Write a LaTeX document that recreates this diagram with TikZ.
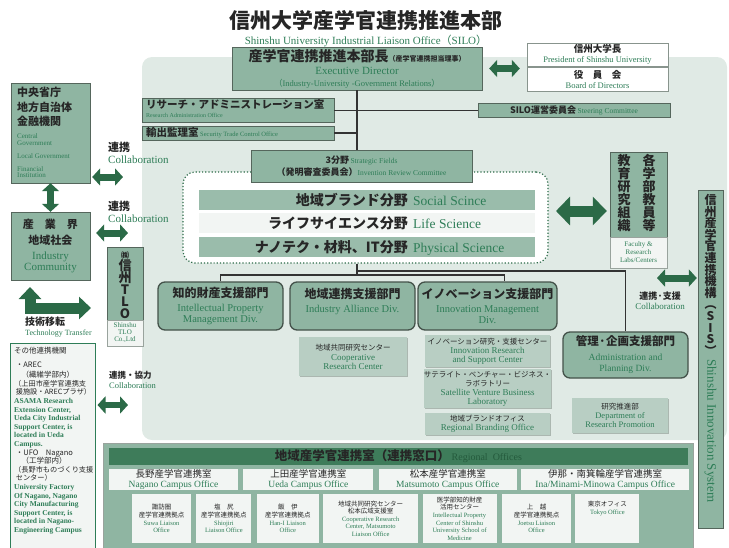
\documentclass[tikz,border=0pt]{standalone}
\usepackage{fontspec}
\setmainfont{Liberation Serif}
\newfontfamily\jp{Noto Sans CJK JP}
\usetikzlibrary{positioning, arrows.meta, calc, shadows}

\definecolor{panelbg}{HTML}{E0EAE5}
\definecolor{midgreen}{HTML}{8FB5A2}
\definecolor{subgreen}{HTML}{B8CEC3}
\definecolor{facewhite}{HTML}{F2F5F3}
\definecolor{darkgreen}{HTML}{2B6A47}
\definecolor{bargreen}{HTML}{3E7C5A}
\definecolor{tgreen}{HTML}{2E7D57}
\definecolor{edgegray}{HTML}{55665C}
\definecolor{jptext}{HTML}{262626}

\newcommand\jb{\jp\bfseries\color{jptext}}
\newcommand\jr{\jp\color{jptext}}
\newcommand\en{\rmfamily\color{tgreen}}
\newcommand\fsz[1]{\fontsize{#1}{#1}\selectfont}

\begin{document}
\begin{tikzpicture}[x=1pt, y=-1pt, inner sep=0pt]
	% 定义节点样式
	\tikzstyle{box} = [draw=edgegray, fill=midgreen, align=center]
	\tikzstyle{plain} = [draw=edgegray!70, fill=white, align=center, font=\fontsize{9}{10.5}\selectfont]
	\tikzstyle{sub} = [fill=subgreen, align=center, font=\fontsize{8}{9}\selectfont, drop shadow={shadow xshift=1.2pt, shadow yshift=-1.2pt, fill=edgegray!80}]
	\tikzstyle{div} = [draw=edgegray!80!black, line width=1.3pt, fill=midgreen, rounded corners=7pt, align=center, font=\fontsize{10}{11.5}\selectfont]
	\tikzstyle{bar} = [minimum width=336pt, minimum height=20pt]
	\tikzstyle{conn} = [draw=black!80, line width=1.2pt]
	\tikzstyle{dbl} = [darkgreen, line width=7pt, {Triangle[length=8pt,width=17pt]}-{Triangle[length=8pt,width=17pt]}]
	\tikzstyle{lbl} = [align=left, anchor=north west]
	\tikzstyle{campus} = [fill=facewhite, minimum height=21pt, align=center, font=\fontsize{9}{10}\selectfont]
	\tikzstyle{liaison} = [fill=facewhite, minimum height=49pt, align=center, font=\fontsize{6.5}{7.6}\selectfont]

	\useasboundingbox (0,0) rectangle (729,547);

	% 标题
	\node[font=\jb\fsz{21}] (title) at (366,20) {信州大学産学官連携推進本部};
	\node[font=\fsz{11}, text=tgreen, below=5pt of title] (silo) {Shinshu University Industrial Liaison Office{\jp （}SILO{\jp ）}};

	% 背景
	\node[fill=panelbg, rounded corners=10pt, minimum width=585pt, minimum height=383pt] (panel) at (434.5,248.5) {};
	\node[fill=midgreen, draw=edgegray!60, minimum width=590pt, minimum height=106pt, anchor=north west] (regional) at (103,443) {};

	% 本部
	\node[box, minimum width=250pt, minimum height=43pt, font=\fontsize{10}{12}\selectfont, drop shadow={shadow xshift=1pt, shadow yshift=-1pt, fill=edgegray}] (exec) at (357,68.5) {{\jb\fsz{14}産学官連携推進本部長}{\jb\fsz{7}（産学官連携担当理事）}\\[1pt]{\en\fsz{11}Executive Director}\\{\en\fsz{8.5}{\jp （}Industry-University -Government Relations{\jp ）}}};
	\node[plain, minimum width=141pt, minimum height=23pt] (pres) at (597.5,54.5) {{\jb\fsz{9.5}信州大学長}\\{\en\fsz{8.5}President of Shinshu University}};
	\node[plain, minimum width=141pt, minimum height=24pt, below=1pt of pres] (board) {{\jb\fsz{9.5}役　員　会}\\{\en\fsz{8.5}Board of Directors}};

	\node[box, minimum width=192pt, minimum height=24pt] (radmin) at (238,110.5) {};
	\node[lbl, font=\fontsize{8}{9}\selectfont] (radmintxt) at (146,99) {{\jb\fsz{10.5}リサーチ・アドミニストレーション室}\\{\en\fsz{6}Research Administration Office}};
	\node[box, minimum width=192pt, minimum height=14pt, below=3pt of radmin] (export) {};
	\node[anchor=west] (exporttxt) at ([xshift=4pt]export.west) {{\jb\fsz{10.5}輸出監理室}\,{\en\fsz{6.5}Security Trade Control Office}};
	\node[box, minimum width=192pt, minimum height=14pt] (steer) at (574,110.5) {{\jb\fsz{9}SILO運営委員会}\,{\en\fsz{7.5}Steering Committee}};

	% 外部机构
	\node[box, minimum width=79pt, minimum height=100pt] (gov) at (50.5,133) {};
	\node[lbl, font=\fontsize{7}{6.5}\selectfont] (govtxt) at (17,87) {{\jb\fsz{11}中央省庁}\\[3pt]{\jb\fsz{11}地方自治体}\\[3pt]{\jb\fsz{11}金融機関}\\[6.5pt]{\en\fsz{7}Central}\\{\en\fsz{7}Government}\\[6.5pt]{\en\fsz{7}Local Government}\\[6.5pt]{\en\fsz{7}Financial}\\{\en\fsz{7}Institution}};
	\node[box, minimum width=79pt, minimum height=68pt, font=\fontsize{10}{11}\selectfont] (ind) at (50.5,246) {{\jb\fsz{11}産　業　界}\\[5pt]{\jb\fsz{11}地域社会}\\[4pt]{\en\fsz{11}Industry}\\{\en\fsz{11}Community}};
	\node[lbl, font=\fontsize{10}{12}\selectfont] (collab1) at (108,142) {{\jb\fsz{11}連携}\\{\en\fsz{11}Collaboration}};
	\node[lbl, font=\fontsize{10}{12}\selectfont] (collab2) at (108,201) {{\jb\fsz{11}連携}\\{\en\fsz{11}Collaboration}};

	\node[box, minimum width=36pt, minimum height=99pt] (tlo) at (125,296.5) {};
	\node[fill=facewhite, draw=edgegray!60, minimum width=36pt, minimum height=26pt, anchor=south, align=center, font={\fontsize{7}{7}\selectfont\lineskiplimit=-20pt}] (tloen) at (tlo.south) {{\en Shinshu}\\{\en TLO}\\{\en Co.,Ltd}};
	\node[anchor=north, align=center, font={\jb\fontsize{13}{12}\selectfont\lineskiplimit=-20pt}] (tlojp) at (125,251) {{\fsz{8}㈱}\\信\\州\\T\\L\\O};

	\node[lbl, font=\fontsize{8}{9.5}\selectfont] (tt) at (25,317) {{\jb\fsz{10}技術移転}\\{\en\fsz{8}Technology Transfer}};
	\node[lbl, font=\fontsize{8.5}{10}\selectfont] (collab3) at (109,371) {{\jb\fsz{8.5}連携・協力}\\{\en\fsz{8.5}Collaboration}};

	\node[draw=tgreen, line width=1pt, fill=facewhite, minimum width=85pt, minimum height=205pt] (orgs) at (52.5,445.5) {};
	\node[lbl, font={\jr\fontsize{7.5}{8.6}\selectfont\lineskiplimit=-20pt}] (orgstxt) at (14,347) {{\jr\fsz{7.5}その他連携機関}\\[5pt]{\jr\fsz{7.5}\ ・AREC}\\[2pt]{\jr\fsz{7.5}\quad（繊維学部内）}\\{\jr\fsz{7.2}（上田市産学官連携支}\\{\jr\fsz{7.2}\ 援施設・ARECプラザ）}\\{\en\bfseries\fsz{7.5}ASAMA Research}\\{\en\bfseries\fsz{7.5}Extension Center,}\\{\en\bfseries\fsz{7.5}Ueda City Industrial}\\{\en\bfseries\fsz{7.5}Support Center, is}\\{\en\bfseries\fsz{7.5}located in Ueda}\\{\en\bfseries\fsz{7.5}Campus.}\\{\jr\fsz{7.5}\ ・UFO　Nagano}\\{\jr\fsz{7.5}\quad（工学部内）}\\{\jr\fsz{7.2}（長野市ものづくり支援}\\{\jr\fsz{7.2}\ センター）}\\{\en\bfseries\fsz{7.5}University Factory}\\{\en\bfseries\fsz{7.5}Of Nagano, Nagano}\\{\en\bfseries\fsz{7.5}City Manufacturing}\\{\en\bfseries\fsz{7.5}Support Center, is}\\{\en\bfseries\fsz{7.5}located in Nagano-}\\{\en\bfseries\fsz{7.5}Engineering Campus}};

	% 3分野
	\node[draw=darkgreen, dotted, line width=1.2pt, rounded corners=12pt, fill=white, minimum width=365pt, minimum height=91pt] (fieldzone) at (365.5,217.5) {};
	\node[box, minimum width=221pt, minimum height=32pt, font=\fontsize{9}{12}\selectfont, drop shadow={shadow xshift=1pt, shadow yshift=-1pt, fill=edgegray}] (fields) at (361.5,166) {{\jb\fsz{9}3分野}\,{\en\fsz{7.5}Strategic Fields}\\{\jb\fsz{9}（発明審査委員会）}{\en\fsz{7.5}Invention Review Committee}};
	\node[bar, fill=midgreen!90] (bar1) at (367,200) {};
	\node[bar, fill=facewhite] (bar2) at (367,223) {};
	\node[bar, fill=midgreen!90] (bar3) at (367,247) {};
	\node[anchor=base east, font=\jb\fsz{14}] (f1jp) at (408,205) {地域ブランド分野};
	\node[anchor=base west, font=\fsz{13.5}, text=tgreen] (f1en) at (413,205) {Social Scince};
	\node[anchor=base east, font=\jb\fsz{14}] (f2jp) at (408,228) {ライフサイエンス分野};
	\node[anchor=base west, font=\fsz{13.5}, text=tgreen] (f2en) at (413,228) {Life Science};
	\node[anchor=base east, font=\jb\fsz{14}] (f3jp) at (408,252) {ナノテク・材料、IT分野};
	\node[anchor=base west, font=\fsz{13.5}, text=tgreen] (f3en) at (413,252) {Physical Science};

	% 教員・机构
	\node[box, minimum width=57pt, minimum height=116pt] (faculty) at (638.5,210) {};
	\node[fill=facewhite, draw=edgegray!60, minimum width=57pt, minimum height=31pt, anchor=south, align=center, font=\fontsize{7}{8}\selectfont] (facen) at (faculty.south) {{\en Faculty \&}\\{\en Research}\\{\en Labs/Centers}};
	\node[anchor=north, align=center, font={\jb\fontsize{13}{13}\selectfont\lineskiplimit=-20pt}] (facjp1) at (649,154) {各\\学\\部\\教\\員\\等};
	\node[anchor=north, align=center, font={\jb\fontsize{13}{13}\selectfont\lineskiplimit=-20pt}] (facjp2) at (624,154) {教\\育\\研\\究\\組\\織};

	\node[box, minimum width=25pt, minimum height=338pt] (sis) at (710.5,359) {};
	\node[anchor=north, align=center, font={\jb\fontsize{12}{11.6}\selectfont\lineskiplimit=-20pt}] (sisjp) at (710.5,194) {信\\州\\産\\学\\官\\連\\携\\機\\構\\︵\\S\\I\\S\\︶};
	\node[anchor=west, rotate=-90, font=\fsz{13}, text=tgreen] (sisen) at (710.5,359) {Shinshu Innovation System};
	\node[align=center, font=\fontsize{9}{10}\selectfont] (sislbl) at (660,301) {{\jb\fsz{9}連携·支援}\\{\en\fsz{9}Collaboration}};

	% 部门
	\node[div, minimum width=125pt, minimum height=48pt] (ipdiv) at (220.5,306) {{\jb\fsz{12}知的財産支援部門}\\[2pt]{\en\fsz{10.5}Intellectual Property}\\{\en\fsz{10.5}Management Div.}};
	\node[div, minimum width=125pt, minimum height=48pt] (iadiv) at (352.5,306) {{\jb\fsz{12}地域連携支援部門}\\[2pt]{\en\fsz{10.5}Industry Alliance Div.}\\{\fsz{10.5}\phantom{D}}};
	\node[div, minimum width=139pt, minimum height=48pt] (innov) at (487.5,306) {{\jb\fsz{12}イノベーション支援部門}\\[2pt]{\en\fsz{10.5}Innovation Management}\\{\en\fsz{10.5}Div.}};
	\node[div, minimum width=125pt, minimum height=46pt] (admin) at (625.5,355) {{\jb\fsz{11.5}管理·企画支援部門}\\[3pt]{\en\fsz{9.5}Administration and}\\{\en\fsz{9.5}Planning Div.}};

	\node[sub, minimum width=108pt, minimum height=39pt] (coop) at (353,356.5) {{\jr\fsz{7.5}地域共同研究センター}\\[1pt]{\en\fsz{9}Cooperative}\\{\en\fsz{9}Research Center}};
	\node[sub, minimum width=125pt, minimum height=32pt] (innres) at (487.5,351) {{\jr\fsz{7.5}イノベーション研究・支援センター}\\{\en\fsz{9}Innovation Research}\\{\en\fsz{9}and Support Center}};
	\node[sub, minimum width=125pt, minimum height=39pt] (svbl) at (487.5,388.5) {{\jr\fsz{7.5}サテライト・ベンチャー・ビジネス・}\\{\jr\fsz{7.5}ラボラトリー}\\{\en\fsz{9}Satellite Venture Business}\\{\en\fsz{9}Laboratory}};
	\node[sub, minimum width=125pt, minimum height=22pt] (brand) at (487.5,424) {{\jr\fsz{7.5}地域ブランドオフィス}\\{\en\fsz{9}Regional Branding Office}};
	\node[sub, minimum width=96pt, minimum height=35pt] (respro) at (620,415.5) {{\jr\fsz{7.5}研究推進部}\\{\en\fsz{8.5}Department of}\\{\en\fsz{8.5}Research Promotion}};

	% 地域产学官连携室
	\node[fill=bargreen, minimum width=579pt, minimum height=17pt] (rohead) at (398.5,456.5) {{\jb\fsz{12.5}地域産学官連携室（連携窓口）}\,{\fsz{10}\color{darkgreen!85!black}Regional\ \ Offices}};
	\node[campus, minimum width=129pt] (nagano) at (173.5,479.5) {{\jr\fsz{9.5}長野産学官連携室}\\{\en\fsz{9.5}Nagano Campus Office}};
	\node[campus, minimum width=130pt, right=5pt of nagano] (ueda) {{\jr\fsz{9.5}上田産学官連携室}\\{\en\fsz{9.5}Ueda Campus Office}};
	\node[campus, minimum width=138pt, right=5pt of ueda] (matsu) {{\jr\fsz{9.5}松本産学官連携室}\\{\en\fsz{9.5}Matsumoto Campus Office}};
	\node[campus, minimum width=168pt, right=4pt of matsu] (ina) {{\jr\fsz{9.5}伊那・南箕輪産学官連携室}\\{\en\fsz{9.5}Ina/Minami-Minowa Campus Office}};

	\node[liaison, minimum width=59pt] (suwa) at (161.5,518.5) {{\jr 諏訪圏}\\{\jr 産学官連携拠点}\\{\en Suwa Liaison}\\{\en Office}};
	\node[liaison, minimum width=55pt, right=5pt of suwa] (shiojiri) {{\jr 塩　尻}\\{\jr 産学官連携拠点}\\{\en Shiojiri}\\{\en Liaison Office}};
	\node[liaison, minimum width=62pt, right=5pt of shiojiri] (hani) {{\jr 飯　伊}\\{\jr 産学官連携拠点}\\{\en Han-I Liaison}\\{\en Office}};
	\node[liaison, minimum width=95pt, right=4pt of hani] (coopmatsu) {{\jr 地域共同研究センター}\\{\jr 松本広域支援室}\\{\en Cooperative Research}\\{\en Center, Matsumoto}\\{\en Liaison Office}};
	\node[liaison, minimum width=74pt, right=4pt of coopmatsu] (medip) {{\jr 医学部知的財産}\\{\jr 活用センター}\\{\en Intellectual Property}\\{\en Center of Shinshu}\\{\en University School of}\\{\en Medicine}};
	\node[liaison, minimum width=69pt, right=5pt of medip] (joetsu) {{\jr 上　越}\\{\jr 産学官連携拠点}\\{\en Joetsu Liaison}\\{\en Office}};
	\node[liaison, minimum width=64pt, right=4pt of joetsu] (tokyo) {{\jr 東京オフィス}\\{\en Tokyo Office}\\[14pt]};

	% 连线
	\coordinate (hub) at (357,275);
	\coordinate (adminjoin) at (357,271);
	\draw[conn] (exec.south) -- (exec.south |- fields.north);
	\draw[conn] (radmin.east) -- (steer.west);
	\draw[conn] (export.east) -- (export.east -| exec.south);
	\draw[conn] (fieldzone.south -| exec.south) -- (hub);
	\draw[conn] (ipdiv.north) |- (hub) -| ([xshift=17pt]innov.north);
	\draw[conn] (admin.north) |- (adminjoin);

	% 箭头
	\coordinate (govtip) at (123,177);
	\coordinate (indtip) at (128,233);
	\coordinate (orgtip) at (128,405);
	\coordinate (facarrow) at (556,211);
	\coordinate (sistail) at (657,278);
	\coordinate (ttright) at (91,308);
	\coordinate (ttup) at (30,287);
	\draw[dbl] ([xshift=7pt]exec.east) -- ([xshift=-7pt]exec.east -| pres.west);
	\draw[dbl] ($(gov.east |- govtip)+(2,0)$) -- (govtip);
	\draw[dbl] ($(ind.east |- indtip)+(6,0)$) -- (indtip);
	\draw[dbl] (gov.south) -- (ind.north);
	\draw[dbl, line width=6pt] ($(orgs.east |- orgtip)+(2,0)$) -- (orgtip);
	\draw[dbl] (sistail) -- ($(sistail -| sis.west)+(-1,0)$);
	\draw[darkgreen, line width=11pt, {Triangle[length=14pt,width=28pt]}-{Triangle[length=14pt,width=28pt]}] (facarrow) -- ($(facarrow -| faculty.west)+(-3,0)$);
	\draw[darkgreen, line width=11pt, {Triangle[length=12pt,width=22pt]}-{Triangle[length=12pt,width=22pt]}] (ttright) -| (ttup);
\end{tikzpicture}
\end{document}
